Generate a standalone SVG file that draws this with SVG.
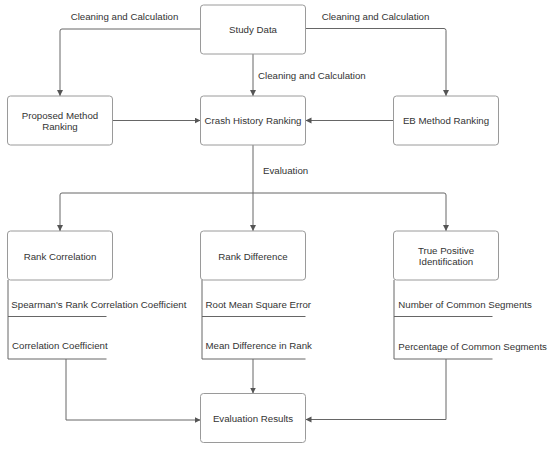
<svg xmlns="http://www.w3.org/2000/svg" width="550" height="451" viewBox="0 0 550 451">
<style>
.box{fill:#fff;stroke:#9a9a9a;stroke-width:1}
.t{font-family:"Liberation Sans",Arial,sans-serif;font-size:9.7px;fill:#333;text-anchor:middle;dominant-baseline:central}
.tl{font-family:"Liberation Sans",Arial,sans-serif;font-size:9.7px;fill:#333;dominant-baseline:central}
.c{fill:none;stroke:#666;stroke-width:1}
.sub{fill:none;stroke:#666;stroke-width:1}
</style>
<defs>
<marker id="ah" markerWidth="8" markerHeight="8" refX="6" refY="3" orient="auto" markerUnits="userSpaceOnUse">
<path d="M0,0 L6,3 L0,6 Z" fill="#555"/>
</marker>
</defs>
<rect width="550" height="451" fill="#fff"/>
<g id="connectors">
<path class="c" d="M200.5,29 H62 Q60,29 60,31 V96" marker-end="url(#ah)"/>
<path class="c" d="M305.5,28.5 H444 Q446,28.5 446,30.5 V96" marker-end="url(#ah)"/>
<path class="c" d="M253,54 V96" marker-end="url(#ah)"/>
<path class="c" d="M112.5,120.5 H200.5" marker-end="url(#ah)"/>
<path class="c" d="M393.5,120.5 H305.5" marker-end="url(#ah)"/>
<path class="c" d="M253,145 V231" marker-end="url(#ah)"/>
<path class="c" d="M60,231 V195 Q60,193 62,193 H444 Q446,193 446,195 V231" marker-end="url(#ah)"/>
<path class="c" d="M60,225 V231" marker-end="url(#ah)"/>
<path class="c" d="M66,359 V420 H200.5" marker-end="url(#ah)"/>
<path class="c" d="M253,359 V393.5" marker-end="url(#ah)"/>
<path class="c" d="M446,359 V419.5 H305.5" marker-end="url(#ah)"/>
<text class="t" x="124.5" y="16.5">Cleaning and Calculation</text>
<text class="t" x="375.5" y="16.5">Cleaning and Calculation</text>
<text class="tl" x="258" y="75.5">Cleaning and Calculation</text>
<text class="tl" x="263" y="170">Evaluation</text>
</g>
<g id="study-data"><rect class="box" x="200.5" y="5" width="105" height="49" rx="3"/><text class="t" x="253" y="29.5">Study Data</text></g>
<g id="proposed"><rect class="box" x="7.5" y="96" width="105" height="49" rx="3"/><text class="t" x="60" y="115">Proposed Method</text><text class="t" x="60" y="126">Ranking</text></g>
<g id="crash"><rect class="box" x="200.5" y="96" width="105" height="49" rx="3"/><text class="t" x="253" y="120">Crash History Ranking</text></g>
<g id="eb"><rect class="box" x="393.5" y="96" width="105" height="49" rx="3"/><text class="t" x="446" y="120">EB Method Ranking</text></g>
<g id="rank-correlation"><rect class="box" x="7.5" y="231" width="105" height="49" rx="3"/><text class="t" x="60" y="256">Rank Correlation</text>
<path class="sub" d="M8,280 V359 H106.5 M8,316.5 H106.5"/>
<text class="tl" x="11.3" y="304">Spearman's Rank Correlation Coefficient</text>
<text class="tl" x="12" y="345.7">Correlation Coefficient</text></g>
<g id="rank-difference"><rect class="box" x="200.5" y="231" width="105" height="49" rx="3"/><text class="t" x="253" y="256">Rank Difference</text>
<path class="sub" d="M202,280 V359 H305.5 M202,316.5 H305.5"/>
<text class="tl" x="205.5" y="304">Root Mean Square Error</text>
<text class="tl" x="205.5" y="345.7">Mean Difference in Rank</text></g>
<g id="true-positive"><rect class="box" x="393.5" y="231" width="105" height="49" rx="3"/><text class="t" x="446" y="250.7">True Positive</text><text class="t" x="446" y="261">Identification</text>
<path class="sub" d="M394,280 V359 H492.5 M394,316.5 H492.5"/>
<text class="tl" x="398.3" y="304">Number of Common Segments</text>
<text class="tl" x="398.3" y="346.7">Percentage of Common Segments</text></g>
<g id="evaluation-results"><rect class="box" x="200.5" y="393.5" width="105" height="49" rx="3"/><text class="t" x="253" y="418">Evaluation Results</text></g>
</svg>
